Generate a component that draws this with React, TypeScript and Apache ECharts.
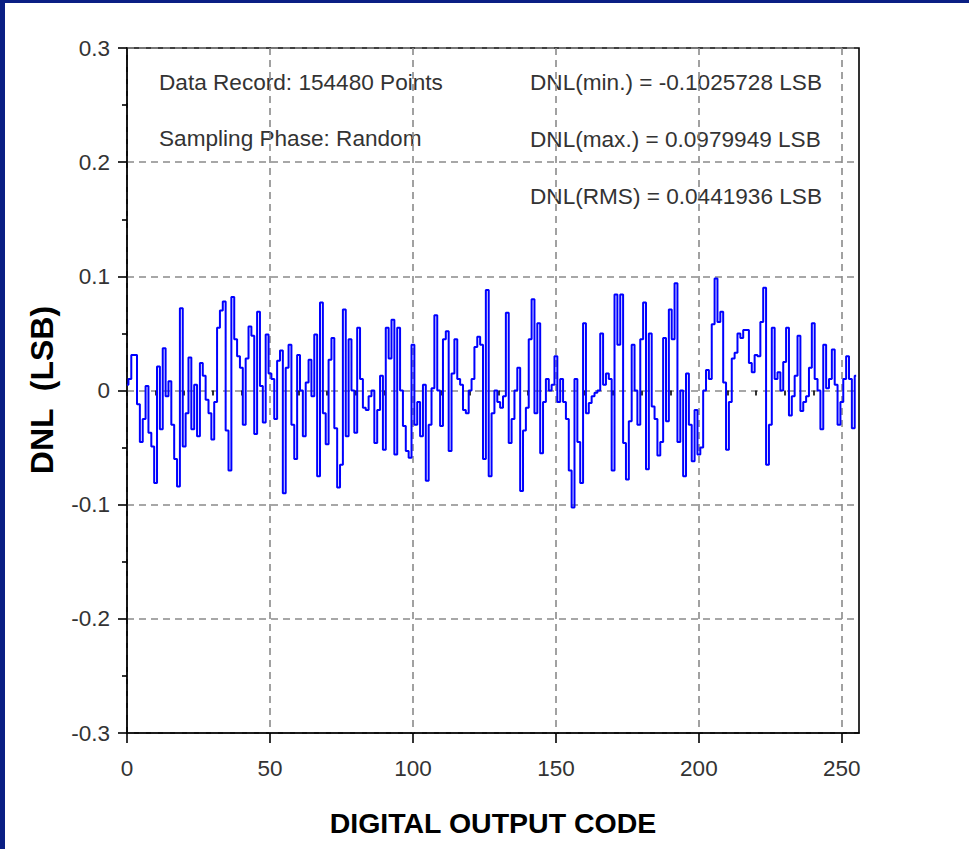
import { useEffect, useRef } from "react";
import * as echarts from "echarts";

// Digital output codes 0..255 of the 8-bit converter
const codes: number[] = Array.from({ length: 256 }, (_, i) => i);

// Differential non-linearity per code, in LSB
const dnl: number[] = [
  0.005, 0.01, 0.031, 0.031, -0.012, -0.045, -0.025, 0.004, -0.037, -0.049,
  -0.081, 0.021, -0.034, 0.037, -0.005, 0.008, -0.03, -0.06, -0.084, 0.072,
  -0.049, -0.02, 0.029, -0.034, 0.005, -0.04, 0.024, 0.013, -0.008, -0.02,
  -0.043, -0.01, 0.055, 0.07, 0.078, -0.035, -0.07, 0.082, 0.045, 0.03,
  0.02, -0.03, 0.028, 0.056, 0.048, -0.038, 0.069, 0.004, -0.028, 0.049,
  0.015, 0.01, -0.025, 0.026, 0.035, -0.09, 0.02, 0.04, -0.03, -0.06,
  0.031, 0.0, -0.04, 0.007, 0.027, -0.005, 0.049, -0.075, 0.077, -0.02,
  -0.047, 0.027, 0.046, -0.033, -0.085, -0.065, 0.071, -0.04, 0.045, 0.0,
  -0.037, 0.055, 0.01, -0.015, -0.017, -0.005, 0.0, -0.046, -0.017, 0.013,
  -0.052, 0.055, 0.028, 0.062, -0.056, 0.055, 0.0, -0.031, -0.053, -0.059,
  0.04, -0.03, -0.01, -0.04, 0.005, -0.079, -0.03, 0.002, 0.066, 0.0,
  -0.031, 0.045, 0.052, -0.053, 0.015, 0.045, 0.01, 0.005, -0.017, -0.02,
  0.0, 0.01, 0.038, 0.047, 0.04, -0.06, 0.088, -0.075, -0.02, 0.0,
  -0.01, -0.015, -0.005, 0.068, -0.046, -0.025, 0.0, 0.02, -0.088, -0.035,
  -0.015, 0.045, 0.08, -0.02, 0.059, -0.055, -0.01, 0.01, 0.0, 0.005,
  0.03, -0.01, 0.01, -0.01, -0.025, -0.07, -0.1025728, 0.01, -0.045, -0.081,
  0.059, -0.02, -0.011, -0.005, -0.002, 0.0, 0.05, 0.005, 0.015, 0.01,
  -0.07, 0.084, 0.04, 0.084, -0.046, -0.078, -0.027, 0.04, 0.0, -0.03,
  0.045, 0.077, -0.069, 0.05, -0.014, -0.025, -0.057, -0.045, 0.046, -0.027,
  0.071, 0.045, 0.094, -0.045, 0.0, -0.075, 0.015, -0.03, -0.062, -0.017,
  -0.056, -0.05, 0.0, 0.018, 0.01, 0.058, 0.0979949, 0.06, 0.069, 0.007,
  -0.052, -0.01, 0.028, 0.033, 0.05, 0.046, 0.053, 0.053, 0.024, 0.016,
  0.031, 0.03, 0.06, 0.09, -0.065, -0.03, 0.055, 0.01, 0.016, 0.0,
  0.025, 0.055, -0.022, -0.005, 0.013, 0.048, -0.018, -0.01, -0.005, 0.02,
  0.059, 0.01, 0.0, -0.034, 0.04, 0.002, 0.01, 0.036, 0.005, -0.03,
  -0.01, 0.01, 0.03, 0.01, -0.033, 0.013,
];

// Axis tick positions
const xMajorTicks: number[] = [0, 50, 100, 150, 200, 250];
const xMinorTicks: number[] = [
  10, 20, 30, 40, 60, 70, 80, 90, 110, 120, 130, 140, 160, 170, 180, 190,
  210, 220, 230, 240,
];

// Annotation lines
const recordInfo: string[] = ["Data Record: 154480 Points", "Sampling Phase: Random"];
const dnlStats: string[] = [
  "DNL(min.) = -0.1025728 LSB",
  "DNL(max.) = 0.0979949 LSB",
  "DNL(RMS) = 0.0441936 LSB",
];

const xTitle = "DIGITAL OUTPUT CODE";
const yTitle = "DNL  (LSB)";

const sans = '"Liberation Sans", Arial, Helvetica, sans-serif';
const labelColor = "#333333";
const gridLine = { type: [7, 5] as number[], color: "#8a8a8a", width: 1.6 };
const axisStroke = { color: "#000000", width: 1.6 };

export default function App() {
  const ref = useRef<HTMLDivElement>(null);

  useEffect(() => {
    if (!ref.current) return;
    const chart = echarts.init(ref.current, undefined, { renderer: "svg" });

    const textBlocks: any[] = [];
    recordInfo.forEach((t, i) => {
      textBlocks.push({
        type: "text",
        x: 154,
        y: 79 + i * 56,
        style: {
          text: t,
          fill: labelColor,
          fontFamily: sans,
          fontSize: 22.6,
          align: "left",
          verticalAlign: "middle",
        },
      });
    });
    dnlStats.forEach((t, i) => {
      textBlocks.push({
        type: "text",
        x: 525,
        y: 79 + i * 57,
        style: {
          text: t,
          fill: labelColor,
          fontFamily: sans,
          fontSize: 22.6,
          align: "left",
          verticalAlign: "middle",
        },
      });
    });
    textBlocks.push({
      type: "text",
      x: 488,
      y: 820,
      style: {
        text: xTitle,
        fill: "#000",
        fontFamily: sans,
        fontWeight: "bold",
        fontSize: 28.5,
        align: "center",
        verticalAlign: "middle",
      },
    });
    textBlocks.push({
      type: "text",
      x: 37,
      y: 387,
      rotation: Math.PI / 2,
      style: {
        text: yTitle,
        fill: "#000",
        fontFamily: sans,
        fontWeight: "bold",
        fontSize: 32,
        align: "center",
        verticalAlign: "middle",
      },
    });

    const option: any = {
      animation: false,
      grid: {
        left: 122,
        top: 45,
        right: 110,
        bottom: 116,
        show: true,
        borderColor: "#000",
        borderWidth: 1.6,
        backgroundColor: "transparent",
      },
      xAxis: [
        {
          type: "value",
          min: 0,
          max: 256,
          position: "bottom",
          axisLine: { show: true, onZero: false, lineStyle: axisStroke },
          axisTick: {
            show: true,
            length: 10,
            customValues: xMajorTicks,
            lineStyle: axisStroke,
          },
          axisLabel: {
            customValues: xMajorTicks,
            margin: 24,
            color: labelColor,
            fontFamily: sans,
            fontSize: 22.5,
          },
          splitLine: { show: true, lineStyle: gridLine },
        },
        {
          type: "value",
          min: 0,
          max: 256,
          position: "bottom",
          axisLine: { show: false },
          axisTick: {
            show: true,
            length: 5,
            customValues: xMinorTicks,
            lineStyle: axisStroke,
          },
          axisLabel: { show: false },
          splitLine: { show: false },
        },
      ],
      yAxis: {
        type: "value",
        min: -0.3,
        max: 0.3,
        interval: 0.1,
        axisLine: { show: true, onZero: false, lineStyle: axisStroke },
        axisTick: { show: true, length: 9, lineStyle: axisStroke },
        minorTick: { show: true, splitNumber: 2, length: 5, lineStyle: axisStroke },
        axisLabel: {
          margin: 17,
          color: labelColor,
          fontFamily: sans,
          fontSize: 22.5,
          formatter: (v: number) => {
            const r = Math.round(v * 10) / 10;
            return r === 0 ? "0" : r.toFixed(1);
          },
        },
        splitLine: { show: true, lineStyle: gridLine },
      },
      series: [
        {
          type: "line",
          xAxisIndex: 0,
          data: codes.map((c, i) => [c, dnl[i]]),
          step: "middle",
          symbol: "none",
          lineStyle: { color: "#0000ff", width: 2 },
          z: 3,
        },
      ],
      graphic: textBlocks,
    };

    chart.setOption(option);
    return () => chart.dispose();
  }, []);

  return (
    <div
      style={{
        position: "absolute",
        left: 0,
        top: 0,
        width: 969,
        height: 849,
        background: "#0a1f84",
      }}
    >
      <div
        ref={ref}
        style={{
          position: "absolute",
          left: 5,
          top: 3,
          width: 964,
          height: 846,
          background: "#ffffff",
        }}
      />
    </div>
  );
}
